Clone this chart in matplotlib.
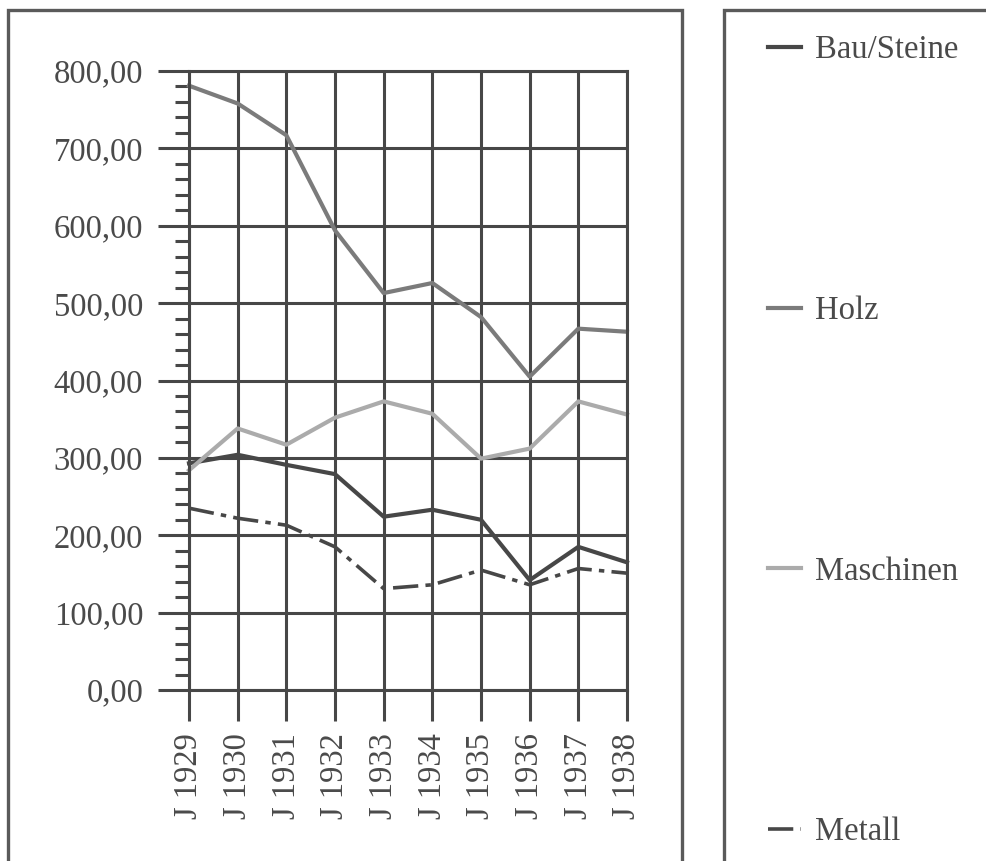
import matplotlib.pyplot as plt
from matplotlib.patches import Rectangle
from matplotlib.ticker import MultipleLocator, FuncFormatter

plt.rcParams['font.family'] = ['Liberation Serif', 'DejaVu Serif']

years = [1929, 1930, 1931, 1932, 1933, 1934, 1935, 1936, 1937, 1938]
year_labels = ['J ' + str(y) for y in years]

bau_steine = [293, 304, 291, 279, 224, 233, 220, 142, 185, 165]
holz = [781, 758, 717, 594, 513, 526, 482, 405, 467, 463]
maschinen = [284, 338, 317, 352, 373, 357, 299, 312, 373, 356]
metall = [235, 222, 213, 185, 131, 136, 155, 136, 157, 151]

series_names = ['Bau/Steine', 'Holz', 'Maschinen', 'Metall']

W, H = 987, 861
fig = plt.figure(figsize=(W / 100, H / 100), dpi=100)
fig.patch.set_facecolor('white')

grid_c = '#474747'
text_c = '#4a4a4a'
fs = 23.5


def px_box(x0, y0, x1, y1):
    # figure fraction box from pixel corners (origin top-left)
    return [x0 / W, 1 - y1 / H, (x1 - x0) / W, (y1 - y0) / H]


# outer frames around chart and legend
for x0, x1 in [(8, 682), (724, 1010)]:
    fig.patches.append(Rectangle((x0 / W, -0.1), (x1 - x0) / W, 1 - 10 / H + 0.1,
                                 transform=fig.transFigure, fill=False,
                                 edgecolor='#5a5a5a', linewidth=2.4))

ax = fig.add_axes(px_box(189, 71, 627, 690))
ax.set_xlim(1929, 1938)
ax.set_ylim(0, 800)

ax.set_xticks(years)
ax.set_xticklabels(year_labels, rotation=90, fontsize=fs, color=text_c)
ax.yaxis.set_major_locator(MultipleLocator(100))
ax.yaxis.set_minor_locator(MultipleLocator(20))
ax.yaxis.set_major_formatter(FuncFormatter(lambda v, p: f'{v:.2f}'.replace('.', ',')))
ax.tick_params(axis='y', which='major', direction='out', length=22, width=2.2,
               color=grid_c, labelsize=fs, labelcolor=text_c, pad=11)
ax.tick_params(axis='y', which='minor', direction='out', length=10, width=2.2, color=grid_c)
ax.tick_params(axis='x', which='major', direction='out', length=22, width=2.2,
               color=grid_c, pad=9)

ax.grid(True, which='major', color=grid_c, linewidth=2.2)
for side in ax.spines.values():
    side.set_color(grid_c)
    side.set_linewidth(2.2)
ax.set_axisbelow(True)

h_bau, = ax.plot(years, bau_steine, color='#474747', linewidth=3.0, clip_on=False)
h_holz, = ax.plot(years, holz, color='#7b7b7b', linewidth=3.0, clip_on=False)
h_masch, = ax.plot(years, maschinen, color='#ababab', linewidth=3.0, clip_on=False)
h_met, = ax.plot(years, metall, color='#474747', linewidth=2.6,
                 linestyle=(0, (7, 2, 1.5, 2)), clip_on=False)

leg = fig.legend([h_bau, h_holz, h_masch, h_met], series_names,
                 loc='upper left', bbox_to_anchor=(768 / W, 1 - 35 / H),
                 frameon=False, fontsize=fs, handlelength=1.0, handletextpad=0.45,
                 labelspacing=7.05, borderpad=0, borderaxespad=0)
for t in leg.get_texts():
    t.set_color(text_c)

fig.savefig('out.png', dpi=100, facecolor='white')
